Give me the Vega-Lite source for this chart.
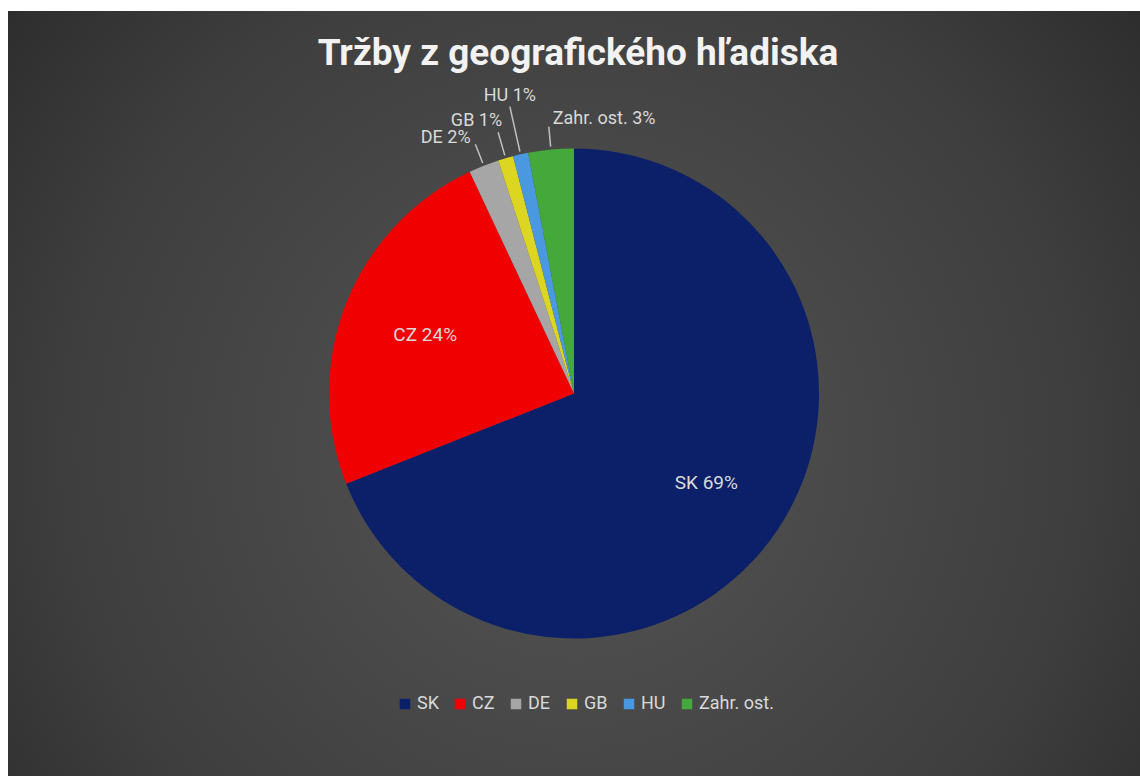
{
  "$schema": "https://vega.github.io/schema/vega-lite/v6.json",
  "width": 1132,
  "height": 765,
  "autosize": {"type": "none"},
  "padding": {"top": 11, "left": 8, "right": 0, "bottom": 0},
  "background": "#ffffff",
  "config": {"view": {"stroke": null}},
  "title": {
    "text": "Tržby z geografického  hľadiska",
    "anchor": "middle",
    "frame": "group",
    "offset": -62,
    "font": "Roboto",
    "fontSize": 37,
    "fontWeight": "bold",
    "letterSpacing": 1.6,
    "color": "#f2f2f2",
    "dx": 4
  },
  "datasets": {
    "sales": [
      {"region": "SK", "share": 69, "ord": 1, "label": "SK 69%"},
      {"region": "CZ", "share": 24, "ord": 2, "label": "CZ 24%"},
      {"region": "DE", "share": 2, "ord": 3, "label": "DE 2%"},
      {"region": "GB", "share": 1, "ord": 4, "label": "GB 1%"},
      {"region": "HU", "share": 1, "ord": 5, "label": "HU 1%"},
      {"region": "Zahr. ost.", "share": 3, "ord": 6, "label": "Zahr. ost. 3%"}
    ]
  },
  "encoding": {
    "theta": {"field": "share", "type": "quantitative", "stack": true},
    "order": {"field": "ord", "type": "quantitative"}
  },
  "layer": [
    {
      "data": {"values": [{"bg": 1}]},
      "mark": {
        "type": "rect",
        "color": {
          "gradient": "radial",
          "x1": 0.5, "y1": 0.55, "x2": 0.5, "y2": 0.55,
          "r1": 0, "r2": 0.75,
          "stops": [
            {"offset": 0, "color": "#555555"},
            {"offset": 0.6, "color": "#3e3e3e"},
            {"offset": 1, "color": "#232323"}
          ]
        }
      },
      "encoding": {
        "theta": null,
        "order": null,
        "x": {"value": 0},
        "x2": {"value": "width"},
        "y": {"value": 0},
        "y2": {"value": "height"}
      }
    },
    {
      "data": {"name": "sales"},
      "mark": {"type": "arc", "radius": 245},
      "encoding": {
        "color": {
          "field": "region",
          "type": "nominal",
          "scale": {
            "domain": ["SK", "CZ", "DE", "GB", "HU", "Zahr. ost."],
            "range": ["#0C206A", "#F00000", "#A6A6A6", "#DCD622", "#4A98E0", "#45A83A"]
          },
          "legend": {
            "orient": "none",
            "direction": "horizontal",
            "legendX": 388,
            "legendY": 684,
            "title": null,
            "symbolType": "square",
            "symbolSize": 110,
            "symbolStrokeWidth": 0,
            "labelFont": "Roboto",
            "labelFontSize": 18,
            "labelColor": "#d9d9d9",
            "columnPadding": 12,
            "labelOffset": 3
          }
        }
      }
    },
    {
      "data": {"name": "sales"},
      "mark": {"type": "arc", "radius": 268, "radius2": 248, "padAngle": 0.3, "fillOpacity": 0, "stroke": "#bfbfbf", "strokeWidth": 1.5},
      "encoding": {
        "strokeOpacity": {"condition": {"test": "datum.ord == 3 || datum.ord == 6", "value": 1}, "value": 0}
      }
    },
    {
      "data": {"name": "sales"},
      "mark": {"type": "arc", "radius": 272, "radius2": 248, "padAngle": 0.3, "fillOpacity": 0, "stroke": "#bfbfbf", "strokeWidth": 1.5},
      "encoding": {
        "strokeOpacity": {"condition": {"test": "datum.ord == 4", "value": 1}, "value": 0}
      }
    },
    {
      "data": {"name": "sales"},
      "mark": {"type": "arc", "radius": 294, "radius2": 248, "padAngle": 0.3, "fillOpacity": 0, "stroke": "#bfbfbf", "strokeWidth": 1.5},
      "encoding": {
        "strokeOpacity": {"condition": {"test": "datum.ord == 5", "value": 1}, "value": 0}
      }
    },
    {
      "data": {"name": "sales"},
      "mark": {"type": "text", "radius": 160, "font": "Roboto", "fontSize": 19, "letterSpacing": 0.5, "color": "#d9d9d9"},
      "encoding": {"text": {"condition": {"test": "datum.ord <= 2", "field": "label"}, "value": ""}}
    },
    {
      "data": {"name": "sales"},
      "mark": {"type": "text", "radius": 270, "align": "right", "dx": -4, "dy": -4, "font": "Roboto", "fontSize": 18, "color": "#d9d9d9"},
      "encoding": {"text": {"condition": {"test": "datum.ord == 3", "field": "label"}, "value": ""}}
    },
    {
      "data": {"name": "sales"},
      "mark": {"type": "text", "radius": 272, "align": "right", "dx": 4, "dy": -11, "font": "Roboto", "fontSize": 18, "color": "#d9d9d9"},
      "encoding": {"text": {"condition": {"test": "datum.ord == 4", "field": "label"}, "value": ""}}
    },
    {
      "data": {"name": "sales"},
      "mark": {"type": "text", "radius": 294, "align": "center", "dy": -11, "font": "Roboto", "fontSize": 18, "color": "#d9d9d9"},
      "encoding": {"text": {"condition": {"test": "datum.ord == 5", "field": "label"}, "value": ""}}
    },
    {
      "data": {"name": "sales"},
      "mark": {"type": "text", "radius": 268, "align": "left", "dx": 4, "dy": -8, "font": "Roboto", "fontSize": 18, "color": "#d9d9d9"},
      "encoding": {"text": {"condition": {"test": "datum.ord == 6", "field": "label"}, "value": ""}}
    }
  ]
}
